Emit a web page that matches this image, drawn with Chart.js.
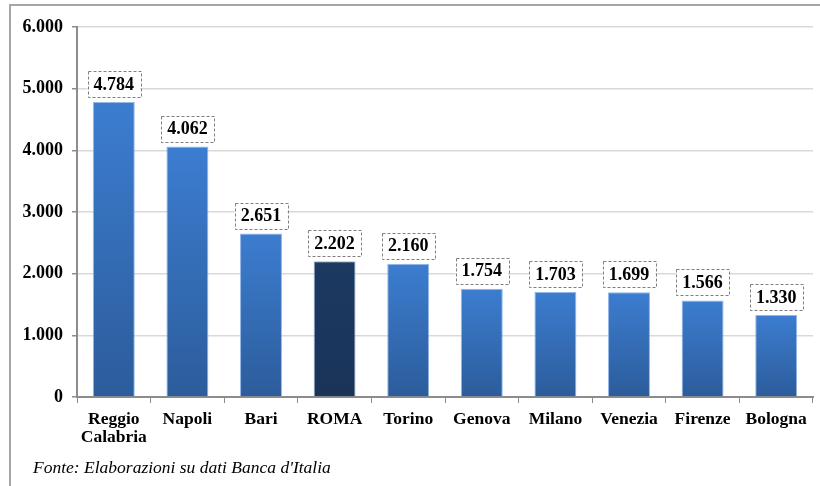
<!DOCTYPE html>
<html>
<head>
<meta charset="utf-8">
<script src="https://cdn.jsdelivr.net/npm/chart.js@4"></script>
<style>
    html, body { margin: 0; padding: 0; background: #fff; }
    canvas { display: block; }
</style>
</head>
<body>
<canvas id="barChart" width="820" height="486"></canvas>
<script>
// Data
const cities = [['Reggio', 'Calabria'], 'Napoli', 'Bari', 'ROMA', 'Torino', 'Genova', 'Milano', 'Venezia', 'Firenze', 'Bologna'];
const values = [4784, 4062, 2651, 2202, 2160, 1754, 1703, 1699, 1566, 1330];
const highlighted = ['ROMA'];
const yTicks = [0, 1000, 2000, 3000, 4000, 5000, 6000];
const sourceNote = "Fonte: Elaborazioni su dati Banca d'Italia";

const serif = '"Liberation Serif", "Times New Roman", serif';

function fmt(v) {
    // italian thousands separator
    if (v < 1000) return String(v);
    const s = String(v);
    return s.slice(0, s.length - 3) + '.' + s.slice(-3);
}

// Per-bar vertical gradient (lighter on top, darker at base)
function barColor(c) {
    const chart = c.chart;
    const hl = highlighted.includes(cities[c.dataIndex]);
    if (!chart.chartArea || !chart.scales.y) return hl ? '#1c3961' : '#3c7dd0';
    const top = chart.scales.y.getPixelForValue(values[c.dataIndex]);
    const base = chart.scales.y.getPixelForValue(0);
    const g = chart.ctx.createLinearGradient(0, top, 0, base);
    if (hl) {
        g.addColorStop(0, '#1c3961');
        g.addColorStop(1, '#1a3458');
    } else {
        g.addColorStop(0, '#3c7dd0');
        g.addColorStop(1, '#2c5c9b');
    }
    return g;
}

// Dashed boxes with values above bars
const valueBoxes = {
    id: 'valueBoxes',
    afterDatasetsDraw(chart) {
        const ctx = chart.ctx;
        const meta = chart.getDatasetMeta(0);
        ctx.save();
        ctx.font = 'bold 18px ' + serif;
        ctx.textAlign = 'center';
        ctx.textBaseline = 'middle';
        meta.data.forEach((bar, i) => {
            const label = fmt(values[i]);
            const w = ctx.measureText(label).width + 12;
            const h = 26;
            const x = bar.x - w / 2;
            const y = bar.y - 5 - h;
            ctx.fillStyle = '#fff';
            ctx.fillRect(x, y, w, h);
            ctx.setLineDash([3, 2]);
            ctx.lineWidth = 1;
            ctx.strokeStyle = '#7f7f7f';
            ctx.strokeRect(Math.round(x) + 0.5, Math.round(y) + 0.5, Math.round(w), h);
            ctx.setLineDash([]);
            ctx.fillStyle = '#000';
            ctx.fillText(label, bar.x, y + h / 2 + 1);
        });
        ctx.restore();
    }
};

// Frame and source note
const frame = {
    id: 'frame',
    beforeDraw(chart) {
        const ctx = chart.ctx;
        ctx.save();
        ctx.fillStyle = '#fff';
        ctx.fillRect(0, 0, chart.width, chart.height);
        ctx.restore();
    },
    afterDraw(chart) {
        const ctx = chart.ctx;
        ctx.save();
        ctx.strokeStyle = '#a6a6a6';
        ctx.lineWidth = 2;
        ctx.beginPath();
        ctx.moveTo(10, chart.height);
        ctx.lineTo(10, 5);
        ctx.lineTo(chart.width, 5);
        ctx.stroke();
        ctx.fillStyle = '#000';
        ctx.font = 'italic 17.5px ' + serif;
        ctx.textBaseline = 'alphabetic';
        ctx.fillText(sourceNote, 33, 473);
        ctx.restore();
    }
};

new Chart(document.getElementById('barChart').getContext('2d'), {
    type: 'bar',
    data: {
        labels: cities,
        datasets: [{
            data: values,
            backgroundColor: barColor,
            borderColor: 'rgba(120, 165, 225, 0.8)',
            borderWidth: 1,
            barPercentage: 0.57,
            categoryPercentage: 1
        }]
    },
    options: {
        responsive: false,
        animation: false,
        events: [],
        layout: { padding: { top: 27, right: 7, left: 0, bottom: 0 } },
        plugins: { legend: { display: false }, tooltip: { enabled: false } },
        scales: {
            x: {
                afterFit: (scale) => { scale.height = 89; },
                grid: {
                    offset: true,
                    drawOnChartArea: false,
                    drawTicks: true,
                    tickLength: 6,
                    tickColor: '#8c8c8c'
                },
                border: { color: '#8c8c8c', width: 2 },
                ticks: {
                    color: '#000',
                    padding: 7,
                    maxRotation: 0,
                    autoSkip: false,
                    font: { family: serif, size: 17.5, weight: 'bold', lineHeight: 1.05 }
                }
            },
            y: {
                min: 0,
                max: 6000,
                afterFit: (scale) => { scale.width = 77; },
                afterBuildTicks: (scale) => { scale.ticks = yTicks.map(v => ({ value: v })); },
                grid: {
                    color: '#d9d9d9',
                    lineWidth: 1.5,
                    drawTicks: true,
                    tickLength: 5,
                    tickColor: '#8c8c8c'
                },
                border: { color: '#8c8c8c', width: 2 },
                ticks: {
                    color: '#000',
                    padding: 9,
                    font: { family: serif, size: 18, weight: 'bold' },
                    callback: (v) => fmt(v)
                }
            }
        }
    },
    plugins: [frame, valueBoxes]
});
</script>
</body>
</html>
